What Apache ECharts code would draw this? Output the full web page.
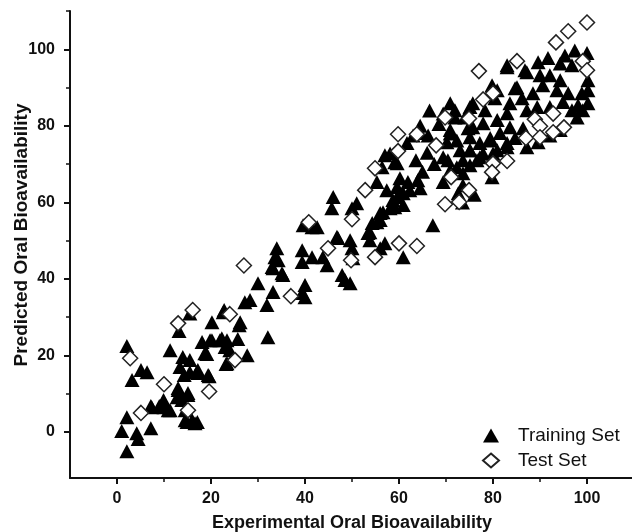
<!DOCTYPE html>
<html>
<head>
<meta charset="utf-8">
<title>Predicted vs Experimental Oral Bioavailability</title>
<script src="https://cdn.jsdelivr.net/npm/echarts@6/dist/echarts.min.js"></script>
<style>
  html, body { margin: 0; padding: 0; background: #fff; }
  #chart { width: 632px; height: 532px; }
</style>
</head>
<body>
<div id="chart"></div>
<script>
// [experimental, predicted] pairs for the training compounds
const trainingSet = [
  [2.1,22.5],[3.2,13.6],[2.1,3.9],[1,0.3],[2.1,-5],[4.2,-0.3],[4.5,-1.8],[7.2,1],[5.1,16.2],[6.4,15.6],
  [7.2,6.8],[9,6.8],[9.9,8.4],[10,6.5],[11.3,5.7],[11.3,21.4],[13.2,26.4],[14,19.6],[13,11.5],[12.8,9.1],
  [13.4,17],[14.3,14.9],[15.1,10.2],[14.9,2.6],[16,3.1],[17.1,2.6],[17.2,16.2],[15.5,15.6],[15.5,31],[19.6,14.6],
  [19.1,20.4],[18.1,23.5],[20.2,28.7],[19.8,24],[21.9,24],[22.6,31.3],[23.4,24],[24,21.4],[23.2,17.8],[25.7,24.3],
  [26,27.9],[27.7,20.1],[27.2,33.9],[28.3,34.5],[30,38.9],[31.9,33.2],[32.1,24.8],[33.2,36.6],[33,43.1],[35.3,41],
  [34.3,44.9],[40,38.4],[40,35.2],[13,11],[13.8,8.4],[15.1,9.7],[9.8,7.8],[7.4,6.5],[10.9,5.7],[14.5,5.7],
  [14.5,3.1],[16.6,2.3],[17.2,15.4],[19.4,14.9],[18.7,20.6],[20.2,24],[22.3,24.5],[23,22.2],[23.4,18],[15.5,18.8],
  [17,15.7],[22.8,31.9],[26.2,28.7],[34,48],[33.6,45.7],[33.2,42.8],[35.1,41.5],[39.4,47.5],[39.4,44.4],[39.4,36.3],
  [41.5,45.7],[41.5,53.5],[39.6,54],[42.6,53.5],[57,72.3],[56.4,69.2],[55.3,65.3],[46,61.4],[45.7,58.5],[51,59.8],
  [50,58.5],[56,57.2],[55.3,54.8],[53.8,52.2],[47,50.7],[49.6,50.1],[50,48],[57,49.3],[44.7,43.6],[43.8,45.7],
  [50.2,45.4],[47.9,41],[48.5,39.7],[49.6,38.9],[46.8,51],[53.8,50.1],[56,48],[60.9,45.7],[59.1,70.5],[60.2,66.3],
  [59.6,64],[61.9,65.3],[64,65.8],[64.5,63.7],[60.9,62.4],[59.6,61.4],[62.3,63.2],[60.9,59.3],[59.1,58.7],[56.6,57.4],
  [56,55.4],[67.2,54],[63,77.5],[64.5,78.1],[66.2,77.5],[61.7,75.5],[58.1,72.8],[59.6,70.2],[71.9,82.2],[74.7,79.4],
  [70.2,75.7],[70.4,71],[70.9,68.4],[72.3,69.2],[75.1,73.6],[75.1,69.7],[73,73.6],[72.6,62.4],[73.6,64.5],[69.4,65.3],
  [57.4,63.2],[58.7,60.6],[58.1,58.5],[54.3,54.6],[53.4,52],[70.9,85.9],[75.1,84.9],[69.4,83.2],[79.8,90.6],[84.7,89.8],
  [83,95.8],[86.8,94.5],[70.9,78],[75.1,77],[79.4,76.2],[77.2,71.8],[73.6,71],[69.4,71.8],[73.6,67.6],[76.6,71],
  [79.8,66.6],[80,72.8],[83,74.4],[73.5,60],[76,62],[63.6,71],[66,73],[67.5,70],[65,68],[64.5,80],
  [68.5,80.5],[66.5,84],
  [83,95.3],[87.2,94],[89.6,96.6],[91.7,97.7],[95.3,98.4],[97.4,99.7],[100,99],[94.3,96.3],[96.8,95.8],[100.2,91.9],
  [100.2,89.3],[100.2,85.9],[98.9,88.5],[98.1,85.4],[96,88.5],[96.8,84.1],[90,93.2],[92.1,93.2],[94.3,91.9],[90.6,90.6],
  [93.6,89.3],[88.5,88.5],[85.1,90.1],[86.2,87.2],[83.6,85.9],[80.9,89.3],[80.4,87.2],[78.3,84.1],[75.7,85.9],[71.9,84.1],
  [74,82.2],[89.4,84.9],[92.1,84.9],[94.9,86.2],[87.2,84.1],[83,83.3],[80.9,81.5],[77.9,80.7],[75.7,79.6],[83.6,79.6],
  [86.4,79.4],[81.5,78.1],[79.4,76.8],[84.7,76.8],[77.2,75.5],[80.9,73.6],[87.2,74.4],[89.6,75.7],[92.1,77.5],[94.3,78.9],
  [97.9,82.2],[99.1,84.1],[75.1,73.6],[72.3,76.2],[70.9,78.9],[83,75.5],[77.9,72.8]
];

// [experimental, predicted] pairs for the external test compounds
const testSet = [
  [2.8,19.3],[5.1,5],[10,12.5],[13,28.4],[16.1,31.9],[15.1,5.7],[19.6,10.6],[24,30.8],[25.1,18.8],[27,43.5],
  [37,35.5],[40.8,54.8],[100,107],[96,104.7],[93.4,101.8],[77,94.3],[85.1,96.9],[99.1,96.9],[100,94.5],[80,88.5],
  [77.9,86.9],[69.8,82.2],[74.9,81.9],[88.9,81.7],[92.8,83.2],[90,79.9],[92.8,78.3],[95.1,79.6],[87,76.8],[90,77],
  [59.8,77.8],[63.8,77.8],[67.9,74.9],[59.8,73.4],[54.9,68.9],[80,70.2],[83,70.8],[79.8,67.9],[71.1,66.6],[52.8,63.2],
  [74.9,63.2],[72.8,60.1],[69.8,59.5],[50,55.6],[44.9,48],[49.8,44.9],[54.9,45.7],[60,49.3],[63.8,48.6]
];

// Labelled (major) and unlabelled (minor) tick positions
const majorTicks = [0, 20, 40, 60, 80, 100];
const minorTicks = [10, 30, 50, 70, 90, 110];

const FONT = "'Liberation Sans', Arial, Helvetica, sans-serif";

const chart = echarts.init(document.getElementById('chart'), null, { renderer: 'canvas' });

function majorAxis(dim) {
  const isX = dim === 'x';
  return {
    type: 'value',
    position: isX ? 'bottom' : 'left',
    min: isX ? -10 : -12,
    max: 110,
    name: isX ? 'Experimental Oral Bioavailability' : 'Predicted Oral Bioavailability',
    nameLocation: 'middle',
    nameGap: isX ? 36 : 39,
    nameMoveOverlap: false,
    nameTextStyle: {
      fontFamily: FONT, fontWeight: 'bold', fontSize: isX ? 18 : 19, color: '#111',
      padding: isX ? 0 : [0, 0, 0, 19]
    },
    axisLine: { show: true, onZero: false, lineStyle: { color: '#111', width: 2 } },
    axisTick: { show: true, customValues: majorTicks, length: 6, lineStyle: { color: '#111', width: 2 } },
    axisLabel: {
      customValues: majorTicks, margin: isX ? 13 : 15,
      fontFamily: FONT, fontWeight: 'bold', fontSize: 16, color: '#111'
    },
    splitLine: { show: false }
  };
}

function minorAxis(dim) {
  const isX = dim === 'x';
  return {
    type: 'value',
    position: isX ? 'bottom' : 'left',
    min: isX ? -10 : -12,
    max: 110,
    axisLine: { show: false, onZero: false },
    axisTick: { show: true, customValues: minorTicks, length: 4, lineStyle: { color: '#111', width: 1.5 } },
    axisLabel: { show: false },
    splitLine: { show: false }
  };
}

chart.setOption({
  animation: false,
  backgroundColor: '#fff',
  grid: { left: 70, top: 11, width: 564, height: 467, containLabel: false, outerBoundsMode: 'none' },
  xAxis: [majorAxis('x'), minorAxis('x')],
  yAxis: [majorAxis('y'), minorAxis('y')],
  legend: {
    orient: 'vertical',
    left: 477,
    top: 421,
    itemWidth: 16,
    itemHeight: 14,
    itemGap: 6,
    textStyle: { fontFamily: FONT, fontSize: 19, color: '#111', lineHeight: 17, padding: [0, 0, 0, 14] },
    data: [
      { name: 'Training Set', icon: 'triangle' },
      { name: 'Test Set', icon: 'diamond' }
    ]
  },
  series: [
    {
      name: 'Training Set',
      type: 'scatter',
      xAxisIndex: 0, yAxisIndex: 0,
      symbol: 'triangle',
      symbolSize: [15, 14],
      itemStyle: { color: '#000', opacity: 1 },
      data: trainingSet
    },
    {
      name: 'Test Set',
      type: 'scatter',
      xAxisIndex: 0, yAxisIndex: 0,
      symbol: 'diamond',
      symbolSize: 15,
      itemStyle: { color: '#fff', borderColor: '#222', borderWidth: 1.5, opacity: 1 },
      data: testSet
    }
  ]
});
</script>
</body>
</html>
